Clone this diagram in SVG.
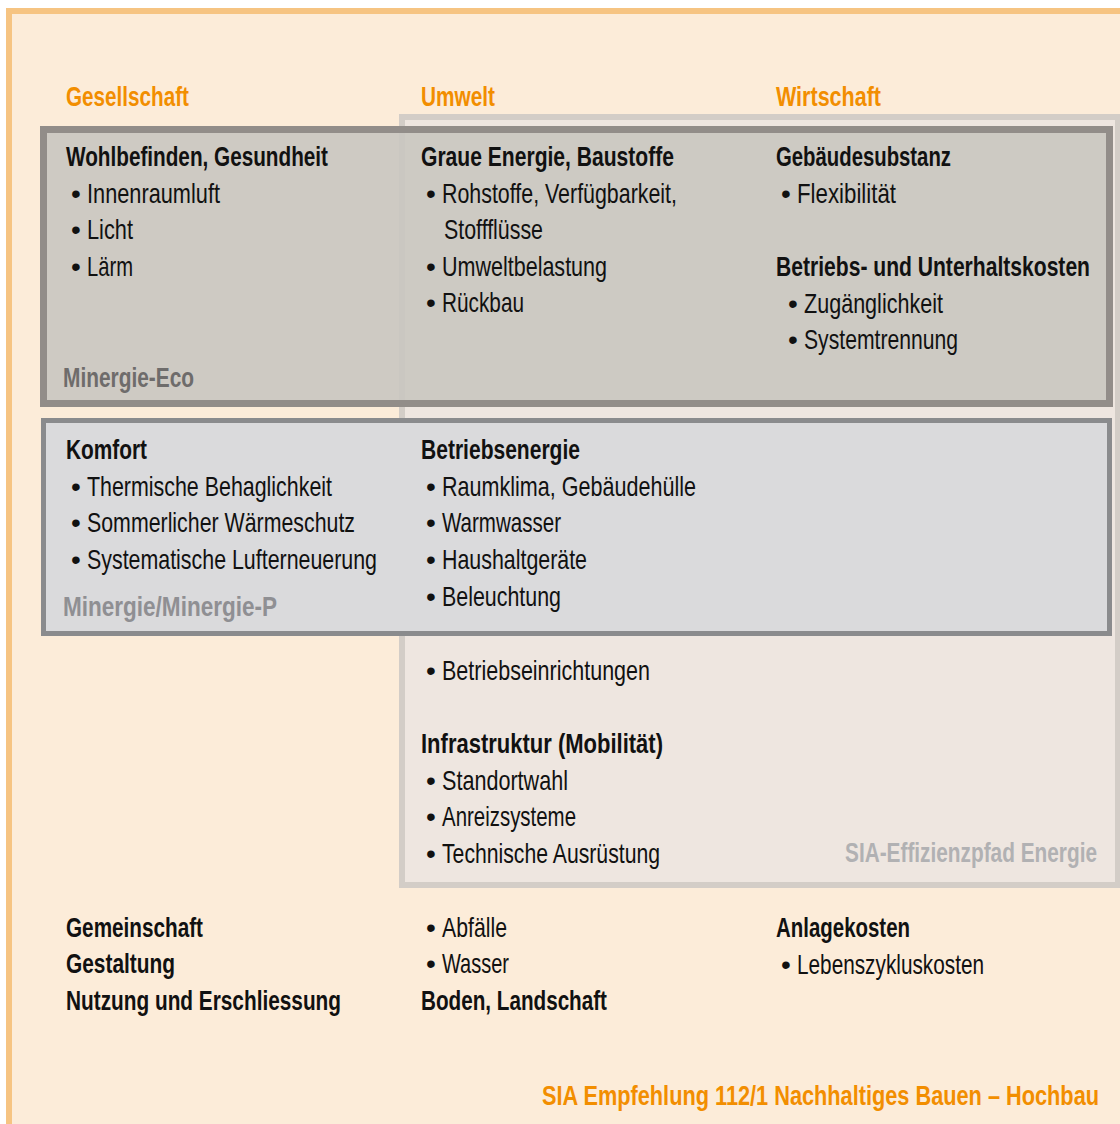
<svg xmlns="http://www.w3.org/2000/svg" width="1120" height="1124" viewBox="0 0 1120 1124">
  <style>
    text { font-family: "Liberation Sans Narrow", "Liberation Sans", Arial, sans-serif; font-size: 28px; fill: #111; }
    .b { font-weight: bold; }
    .head { font-weight: bold; fill: #f28e00; }
    .label { font-weight: bold; }
    .eco { fill: #6e6c6b; }
    .mp { fill: #8f8f93; }
    .sia { fill: #b1b1b3; }
  </style>

  <!-- page frame -->
  <rect x="0" y="0" width="1120" height="1124" fill="#ffffff"/>
  <rect x="6" y="8" width="1114" height="1116" fill="#fcecd9"/>
  <rect x="6" y="8" width="1114" height="6" fill="#f6c482"/>
  <rect x="6" y="8" width="6" height="1116" fill="#f6c482"/>

  <!-- column headings -->
  <g id="headings">
    <text class="head" x="66" y="106" textLength="123" lengthAdjust="spacingAndGlyphs">Gesellschaft</text>
    <text class="head" x="421" y="106" textLength="74" lengthAdjust="spacingAndGlyphs">Umwelt</text>
    <text class="head" x="776" y="106" textLength="105" lengthAdjust="spacingAndGlyphs">Wirtschaft</text>
  </g>

  <!-- SIA-Effizienzpfad Energie area -->
  <g id="sia-effizienzpfad">
    <rect x="402" y="117" width="716" height="768" fill="#eee6e0" stroke="#d3cdc7" stroke-width="6"/>
    <text class="label sia" x="845" y="862" textLength="252" lengthAdjust="spacingAndGlyphs">SIA-Effizienzpfad Energie</text>
  </g>

  <!-- Minergie-Eco area -->
  <g id="minergie-eco">
    <rect x="43.5" y="129.5" width="1066" height="274" fill="#c9c6c0" fill-opacity="0.9" stroke="#928d89" stroke-width="7"/>
    <text class="label eco" x="63" y="387" textLength="131" lengthAdjust="spacingAndGlyphs">Minergie-Eco</text>
  </g>

  <!-- Minergie / Minergie-P area -->
  <g id="minergie-p">
    <rect x="43.5" y="420.5" width="1066" height="213" fill="#dadadc" stroke="#8a8b8d" stroke-width="5"/>
    <text class="label mp" x="63" y="616" textLength="214" lengthAdjust="spacingAndGlyphs">Minergie/Minergie-P</text>
  </g>

  <!-- Gesellschaft: Wohlbefinden -->
  <g id="wohlbefinden">
    <text class="b" x="66" y="166" textLength="262" lengthAdjust="spacingAndGlyphs">Wohlbefinden, Gesundheit</text>
    <text x="71" y="203">•<tspan x="87" textLength="133" lengthAdjust="spacingAndGlyphs">Innenraumluft</tspan></text>
    <text x="71" y="239">•<tspan x="87" textLength="46" lengthAdjust="spacingAndGlyphs">Licht</tspan></text>
    <text x="71" y="276">•<tspan x="87" textLength="46" lengthAdjust="spacingAndGlyphs">Lärm</tspan></text>
  </g>

  <!-- Umwelt: Graue Energie -->
  <g id="graue-energie">
    <text class="b" x="421" y="166" textLength="253" lengthAdjust="spacingAndGlyphs">Graue Energie, Baustoffe</text>
    <text x="426" y="203">•<tspan x="442" textLength="235" lengthAdjust="spacingAndGlyphs">Rohstoffe, Verfügbarkeit,</tspan></text>
    <text x="444" y="239" textLength="99" lengthAdjust="spacingAndGlyphs">Stoffflüsse</text>
    <text x="426" y="276">•<tspan x="442" textLength="165" lengthAdjust="spacingAndGlyphs">Umweltbelastung</tspan></text>
    <text x="426" y="312">•<tspan x="442" textLength="82" lengthAdjust="spacingAndGlyphs">Rückbau</tspan></text>
  </g>

  <!-- Wirtschaft: Gebäudesubstanz, Betriebskosten -->
  <g id="gebaeudesubstanz">
    <text class="b" x="776" y="166" textLength="175" lengthAdjust="spacingAndGlyphs">Gebäudesubstanz</text>
    <text x="781" y="203">•<tspan x="797" textLength="99" lengthAdjust="spacingAndGlyphs">Flexibilität</tspan></text>
  </g>
  <g id="betriebskosten">
    <text class="b" x="776" y="276" textLength="314" lengthAdjust="spacingAndGlyphs">Betriebs- und Unterhaltskosten</text>
    <text x="788" y="313">•<tspan x="804" textLength="139" lengthAdjust="spacingAndGlyphs">Zugänglichkeit</tspan></text>
    <text x="788" y="349">•<tspan x="804" textLength="154" lengthAdjust="spacingAndGlyphs">Systemtrennung</tspan></text>
  </g>

  <!-- Gesellschaft: Komfort -->
  <g id="komfort">
    <text class="b" x="66" y="459" textLength="81" lengthAdjust="spacingAndGlyphs">Komfort</text>
    <text x="71" y="496">•<tspan x="87" textLength="245" lengthAdjust="spacingAndGlyphs">Thermische Behaglichkeit</tspan></text>
    <text x="71" y="532">•<tspan x="87" textLength="268" lengthAdjust="spacingAndGlyphs">Sommerlicher Wärmeschutz</tspan></text>
    <text x="71" y="569">•<tspan x="87" textLength="290" lengthAdjust="spacingAndGlyphs">Systematische Lufterneuerung</tspan></text>
  </g>

  <!-- Umwelt: Betriebsenergie -->
  <g id="betriebsenergie">
    <text class="b" x="421" y="459" textLength="159" lengthAdjust="spacingAndGlyphs">Betriebsenergie</text>
    <text x="426" y="496">•<tspan x="442" textLength="254" lengthAdjust="spacingAndGlyphs">Raumklima, Gebäudehülle</tspan></text>
    <text x="426" y="532">•<tspan x="442" textLength="119" lengthAdjust="spacingAndGlyphs">Warmwasser</tspan></text>
    <text x="426" y="569">•<tspan x="442" textLength="145" lengthAdjust="spacingAndGlyphs">Haushaltgeräte</tspan></text>
    <text x="426" y="606">•<tspan x="442" textLength="119" lengthAdjust="spacingAndGlyphs">Beleuchtung</tspan></text>
    <text x="426" y="680">•<tspan x="442" textLength="208" lengthAdjust="spacingAndGlyphs">Betriebseinrichtungen</tspan></text>
  </g>

  <!-- Umwelt: Infrastruktur -->
  <g id="infrastruktur">
    <text class="b" x="421" y="753" textLength="242" lengthAdjust="spacingAndGlyphs">Infrastruktur (Mobilität)</text>
    <text x="426" y="790">•<tspan x="442" textLength="126" lengthAdjust="spacingAndGlyphs">Standortwahl</tspan></text>
    <text x="426" y="826">•<tspan x="442" textLength="134" lengthAdjust="spacingAndGlyphs">Anreizsysteme</tspan></text>
    <text x="426" y="863">•<tspan x="442" textLength="218" lengthAdjust="spacingAndGlyphs">Technische Ausrüstung</tspan></text>
  </g>

  <!-- remaining criteria -->
  <g id="gesellschaft-weitere">
    <text class="b" x="66" y="937" textLength="137" lengthAdjust="spacingAndGlyphs">Gemeinschaft</text>
    <text class="b" x="66" y="973" textLength="109" lengthAdjust="spacingAndGlyphs">Gestaltung</text>
    <text class="b" x="66" y="1010" textLength="275" lengthAdjust="spacingAndGlyphs">Nutzung und Erschliessung</text>
  </g>
  <g id="umwelt-weitere">
    <text x="426" y="937">•<tspan x="442" textLength="65" lengthAdjust="spacingAndGlyphs">Abfälle</tspan></text>
    <text x="426" y="973">•<tspan x="442" textLength="67" lengthAdjust="spacingAndGlyphs">Wasser</tspan></text>
    <text class="b" x="421" y="1010" textLength="186" lengthAdjust="spacingAndGlyphs">Boden, Landschaft</text>
  </g>
  <g id="wirtschaft-weitere">
    <text class="b" x="776" y="937" textLength="134" lengthAdjust="spacingAndGlyphs">Anlagekosten</text>
    <text x="781" y="974">•<tspan x="797" textLength="187" lengthAdjust="spacingAndGlyphs">Lebenszykluskosten</tspan></text>
  </g>

  <!-- source line -->
  <g id="quelle">
    <text class="head" x="542" y="1105" textLength="557" lengthAdjust="spacingAndGlyphs">SIA Empfehlung 112/1 Nachhaltiges Bauen – Hochbau</text>
  </g>
</svg>
